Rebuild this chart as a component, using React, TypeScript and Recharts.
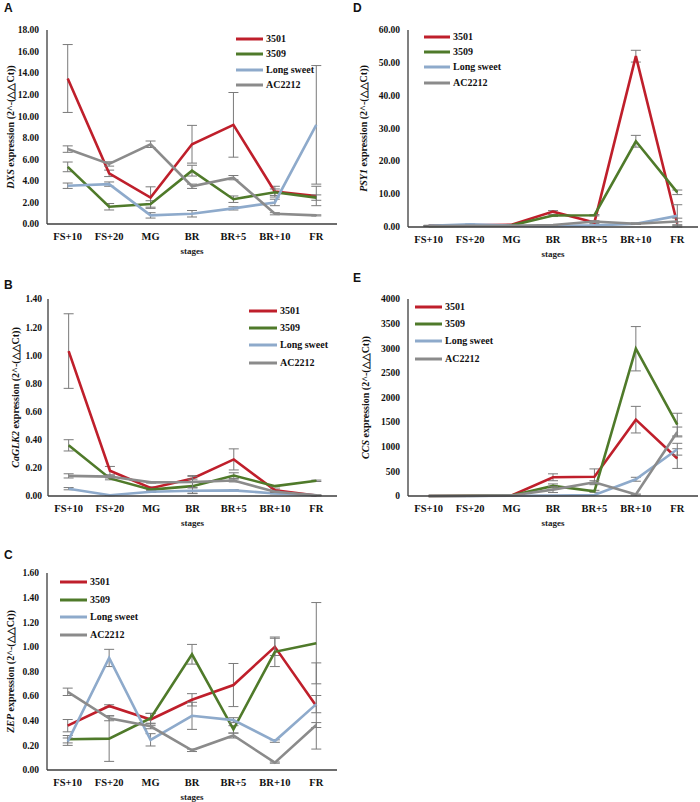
import React from 'react';
import { LineChart, Line, XAxis, YAxis, ErrorBar, Legend, Label } from 'recharts';

const stages = ['FS+10', 'FS+20', 'MG', 'BR', 'BR+5', 'BR+10', 'FR'];
const seriesNames = ['3501', '3509', 'Long sweet', 'AC2212'];
const seriesColors = ['#bf1f2b', '#4f7a2a', '#8eaacb', '#8b8b8b'];

// A - DXS
const dxs3501 = [13.5, 4.7, 2.45, 7.4, 9.2, 3.0, 2.6];
const dxs3501Err = [3.15, 0.3, 1.0, 1.75, 3.0, 0.5, 0.9];
const dxs3509 = [5.3, 1.6, 1.86, 4.95, 2.3, 2.95, 2.45];
const dxs3509Err = [0.45, 0.3, 0.3, 0.5, 0.3, 0.3, 0.25];
const dxsLong = [3.55, 3.7, 0.8, 0.95, 1.45, 2.0, 9.2];
const dxsLongErr = [0.25, 0.2, 0.25, 0.3, 0.15, 0.3, 5.5];
const dxsAC = [6.95, 5.57, 7.4, 3.5, 4.3, 0.95, 0.8];
const dxsACErr = [0.3, 0.2, 0.3, 0.2, 0.2, 0.1, 0.05];

// D - PSY1
const psy3501 = [0.2, 0.3, 0.5, 4.5, 1.2, 52, 0.8];
const psy3501Err = [0.1, 0.1, 0.1, 0.3, 0.3, 1.8, 0.6];
const psy3509 = [0.1, 0.2, 0.3, 3.3, 3.4, 26, 10.4];
const psy3509Err = [0.1, 0.1, 0.1, 0.3, 0.2, 1.8, 0.7];
const psyLong = [0.2, 0.6, 0.2, 0.1, 0.3, 0.8, 3.2];
const psyLongErr = [0.1, 0.1, 0.1, 0.1, 0.1, 0.2, 3.4];
const psyAC = [0.1, 0.2, 0.2, 0.4, 1.5, 0.8, 1.5];
const psyACErr = [0.1, 0.1, 0.1, 0.1, 0.2, 0.2, 1.0];

// B - CaGLK2
const glk3501 = [1.03, 0.18, 0.055, 0.125, 0.26, 0.04, 0.003];
const glk3501Err = [0.265, 0.03, 0.01, 0.02, 0.075, 0.01, 0.002];
const glk3509 = [0.36, 0.125, 0.045, 0.07, 0.145, 0.07, 0.108];
const glk3509Err = [0.04, 0.01, 0.005, 0.05, 0.02, 0.005, 0.005];
const glkLong = [0.052, 0.005, 0.03, 0.037, 0.04, 0.018, 0.005];
const glkLongErr = [0.008, 0.002, 0.005, 0.02, 0.005, 0.003, 0.002];
const glkAC = [0.143, 0.138, 0.097, 0.1, 0.11, 0.03, 0.005];
const glkACErr = [0.015, 0.01, 0.005, 0.04, 0.01, 0.005, 0.002];

// E - CCS
const ccs3501 = [0, 5, 10, 380, 390, 1550, 760];
const ccs3501Err = [0, 0, 0, 70, 160, 270, 200];
const ccs3509 = [0, 5, 10, 205, 95, 2990, 1450];
const ccs3509Err = [0, 0, 0, 40, 20, 450, 230];
const ccsLong = [0, 0, 5, 10, 20, 340, 950];
const ccsLongErr = [0, 0, 0, 0, 0, 40, 120];
const ccsAC = [0, 0, 10, 130, 280, 30, 1300];
const ccsACErr = [0, 0, 0, 60, 30, 10, 100];

// C - ZEP
const zep3501 = [0.36, 0.52, 0.41, 0.57, 0.69, 1.0, 0.52];
const zep3501Err = [0.05, 0.01, 0.05, 0.05, 0.175, 0.07, 0.35];
const zep3509 = [0.25, 0.255, 0.42, 0.94, 0.33, 0.96, 1.03];
const zep3509Err = [0.03, 0.185, 0.04, 0.08, 0.03, 0.12, 0.33];
const zepLong = [0.23, 0.91, 0.245, 0.44, 0.405, 0.235, 0.535];
const zepLongErr = [0.03, 0.07, 0.05, 0.11, 0.02, 0.01, 0.07];
const zepAC = [0.635, 0.42, 0.355, 0.16, 0.28, 0.06, 0.365];
const zepACErr = [0.03, 0.02, 0.02, 0.01, 0.02, 0.005, 0.02];

const dxsTicks = [0, 2, 4, 6, 8, 10, 12, 14, 16, 18];
const psyTicks = [0, 10, 20, 30, 40, 50, 60];
const glkTicks = [0, 0.2, 0.4, 0.6, 0.8, 1.0, 1.2, 1.4];
const ccsTicks = [0, 500, 1000, 1500, 2000, 2500, 3000, 3500, 4000];
const zepTicks = [0, 0.2, 0.4, 0.6, 0.8, 1.0, 1.2, 1.4, 1.6];

const serif = '"Liberation Serif", "Times New Roman", serif';
const sans = '"Liberation Sans", Arial, sans-serif';
const boxColor = '#3c3c3c';
const errColor = '#7a7a7a';

function build(vals: number[][], errs: number[][]) {
  return stages.map((s, i) => {
    const row: any = { stage: s };
    vals.forEach((v, k) => {
      row['s' + k] = v[i];
      row['e' + k] = errs[k][i];
    });
    return row;
  });
}

type Cfg = {
  letter: string;
  letterX: number;
  letterY: number;
  gene: string;
  cx: number;
  cy: number;
  plot: { l: number; t: number; r: number; b: number };
  ticks: number[];
  dec: number;
  tickGap: number;
  yLabelX: number;
  legend: { x: number; y: number; rowH: number; lineW: number };
  data: any[];
};

const panels: Cfg[] = [
  {
    letter: 'A', letterX: 4, letterY: 1.5, gene: 'DXS', cx: 0, cy: 14,
    plot: { l: 47, t: 30, r: 337, b: 224 }, ticks: dxsTicks, dec: 2, tickGap: 2, yLabelX: 10,
    legend: { x: 236, y: 31, rowH: 15.5, lineW: 27 },
    data: build([dxs3501, dxs3509, dxsLong, dxsAC], [dxs3501Err, dxs3509Err, dxsLongErr, dxsACErr]),
  },
  {
    letter: 'D', letterX: 353, letterY: 2, gene: 'PSY1', cx: 350, cy: 14,
    plot: { l: 408, t: 30, r: 698, b: 227 }, ticks: psyTicks, dec: 2, tickGap: 2, yLabelX: 363,
    legend: { x: 424, y: 29, rowH: 15.4, lineW: 26 },
    data: build([psy3501, psy3509, psyLong, psyAC], [psy3501Err, psy3509Err, psyLongErr, psyACErr]),
  },
  {
    letter: 'B', letterX: 4, letterY: 278.5, gene: 'CaGLK2', cx: 0, cy: 290,
    plot: { l: 48, t: 299, r: 337, b: 496 }, ticks: glkTicks, dec: 2, tickGap: 0, yLabelX: 15,
    legend: { x: 249, y: 302, rowH: 17.3, lineW: 28 },
    data: build([glk3501, glk3509, glkLong, glkAC], [glk3501Err, glk3509Err, glkLongErr, glkACErr]),
  },
  {
    letter: 'E', letterX: 353, letterY: 271.5, gene: 'CCS', cx: 350, cy: 290,
    plot: { l: 408, t: 299, r: 698, b: 496 }, ticks: ccsTicks, dec: 0, tickGap: 2, yLabelX: 365,
    legend: { x: 415, y: 298, rowH: 17.3, lineW: 27 },
    data: build([ccs3501, ccs3509, ccsLong, ccsAC], [ccs3501Err, ccs3509Err, ccsLongErr, ccsACErr]),
  },
  {
    letter: 'C', letterX: 4, letterY: 549, gene: 'ZEP', cx: 0, cy: 564,
    plot: { l: 47, t: 573, r: 337, b: 770 }, ticks: zepTicks, dec: 2, tickGap: 2, yLabelX: 10,
    legend: { x: 60, y: 573, rowH: 17.7, lineW: 27 },
    data: build([zep3501, zep3509, zepLong, zepAC], [zep3501Err, zep3509Err, zepLongErr, zepACErr]),
  },
];

const X_AXIS_H = 32;
const RIGHT_PAD = 4;

function Panel({ cfg }: { cfg: Cfg }) {
  const { cx, cy, plot, ticks, dec } = cfg;
  const width = plot.r - cx + RIGHT_PAD;
  const height = plot.b - cy + X_AXIS_H;
  const yW = plot.l - cx;
  const yMax = ticks[ticks.length - 1];

  const yLabel = (props: any) => {
    const vb = props.viewBox || { x: 0, y: 0, width: 0, height: 0 };
    const x = vb.x + (cfg.yLabelX - cx);
    const y = vb.y + vb.height / 2;
    return (
      <text
        x={x}
        y={y}
        transform={`rotate(-90 ${x} ${y})`}
        textAnchor="middle"
        dominantBaseline="central"
        fontFamily={serif}
        fontSize={10}
        fontWeight="bold"
        fill="#111"
      >
        <tspan fontStyle="italic">{cfg.gene}</tspan>
        <tspan>{'\u00a0expression (2^-(\u25b3\u25b3Ct))'}</tspan>
      </text>
    );
  };

  const xLabel = (props: any) => {
    const vb = props.viewBox || { x: 0, y: 0, width: 0, height: 0 };
    return (
      <text
        x={vb.x + vb.width / 2}
        y={vb.y + 30}
        textAnchor="middle"
        fontFamily={serif}
        fontSize={9}
        fontWeight="bold"
        fill="#222"
      >
        stages
      </text>
    );
  };

  const legendContent = () => (
    <div style={{ fontFamily: serif, fontWeight: 'bold', fontSize: 10, color: '#111' }}>
      {seriesNames.map((n, i) => (
        <div key={n} style={{ display: 'flex', alignItems: 'center', height: cfg.legend.rowH, whiteSpace: 'nowrap' }}>
          <svg width={cfg.legend.lineW} height={4} style={{ display: 'block' }}>
            <line x1={0} y1={2} x2={cfg.legend.lineW} y2={2} stroke={seriesColors[i]} strokeWidth={3} />
          </svg>
          <span style={{ marginLeft: 3, lineHeight: 1 }}>{n}</span>
        </div>
      ))}
    </div>
  );

  return (
    <>
      <div
        style={{
          position: 'absolute',
          left: cfg.letterX,
          top: cfg.letterY,
          fontFamily: sans,
          fontWeight: 'bold',
          fontSize: 12,
          lineHeight: '12px',
          color: '#111',
        }}
      >
        {cfg.letter}
      </div>
      <div style={{ position: 'absolute', left: cx, top: cy }}>
        <LineChart
          width={width}
          height={height}
          data={cfg.data}
          margin={{ top: plot.t - cy, right: RIGHT_PAD, left: 0, bottom: 0 }}
        >
          <XAxis
            dataKey="stage"
            scale="band"
            interval={0}
            height={X_AXIS_H}
            tickLine={false}
            tickSize={6}
            tickMargin={3}
            axisLine={{ stroke: boxColor, strokeWidth: 1.3 }}
            tick={{ fontFamily: serif, fontSize: 10.5, fontWeight: 'bold', fill: '#111' }}
          >
            <Label content={xLabel} />
          </XAxis>
          <XAxis
            xAxisId="top"
            dataKey="stage"
            orientation="top"
            scale="band"
            height={0}
            tick={false}
            tickLine={false}
            axisLine={{ stroke: boxColor, strokeWidth: 1.3 }}
          />
          <YAxis
            type="number"
            domain={[0, yMax]}
            ticks={ticks}
            interval={0}
            width={yW}
            tickLine={false}
            tickSize={6}
            tickMargin={cfg.tickGap}
            tickFormatter={(v: number) => v.toFixed(dec)}
            axisLine={{ stroke: boxColor, strokeWidth: 1.3 }}
            tick={{ fontFamily: serif, fontSize: 9.5, fontWeight: 'bold', fill: '#111' }}
          >
            <Label content={yLabel} />
          </YAxis>
          <YAxis
            yAxisId="right"
            orientation="right"
            type="number"
            domain={[0, 1]}
            width={0}
            tick={false}
            tickLine={false}
            axisLine={{ stroke: boxColor, strokeWidth: 1.3 }}
          />
          <Legend
            layout="vertical"
            align="center"
            verticalAlign="middle"
            content={legendContent}
            wrapperStyle={{ left: cfg.legend.x - cx, top: cfg.legend.y - cy, width: 'auto', height: 'auto' }}
          />
          {seriesNames.map((n, k) => (
            <Line
              key={n}
              name={n}
              type="linear"
              dataKey={'s' + k}
              stroke={seriesColors[k]}
              strokeWidth={2.6}
              dot={false}
              activeDot={false}
              isAnimationActive={false}
            >
              <ErrorBar dataKey={'e' + k} direction="y" width={5} stroke={errColor} strokeWidth={1} />
            </Line>
          ))}
        </LineChart>
      </div>
    </>
  );
}

export default function App() {
  return (
    <div
      style={{
        position: 'absolute',
        left: 0,
        top: 0,
        width: 700,
        height: 802,
        overflow: 'hidden',
        background: '#fff',
      }}
    >
      {panels.map((p) => (
        <Panel key={p.letter} cfg={p} />
      ))}
    </div>
  );
}
